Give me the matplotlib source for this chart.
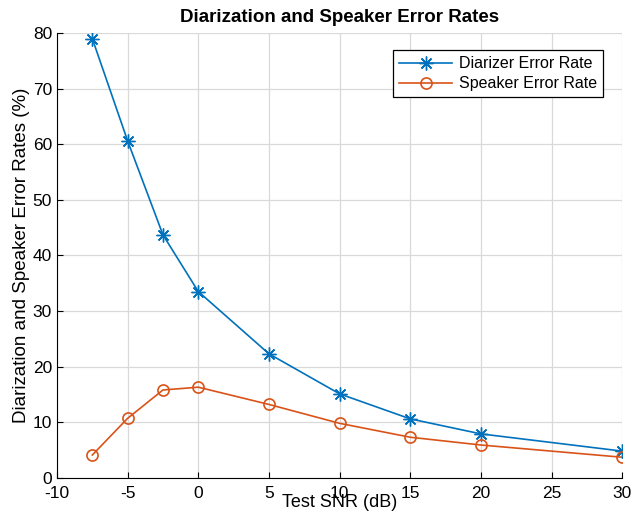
import numpy as np
import matplotlib.pyplot as plt

plt.rcParams['font.family'] = ['Liberation Sans', 'DejaVu Sans']
plt.rcParams['axes.unicode_minus'] = False

snr = [-7.5, -5, -2.5, 0, 5, 10, 15, 20, 30]
diarizer_err = [79.0, 60.6, 43.7, 33.5, 22.3, 15.1, 10.6, 7.9, 4.8]
speaker_err = [4.1, 10.7, 15.8, 16.3, 13.2, 9.8, 7.3, 5.9, 3.7]

fig = plt.figure(figsize=(6.33, 5.16), dpi=100)
ax = fig.add_axes([0.090, 0.074, 0.893, 0.862])

ax.plot(snr, diarizer_err, color='#0072BD', marker=(8, 2, 0), markersize=10,
        markeredgewidth=1.0, linewidth=1.2, label='Diarizer Error Rate')
ax.plot(snr, speaker_err, color='#D95319', marker='o', markersize=8,
        markerfacecolor='none', markeredgewidth=1.2, linewidth=1.2,
        label='Speaker Error Rate')

ax.set_xlim(-10, 30)
ax.set_ylim(0, 80)
ax.set_xticks(np.arange(-10, 31, 5))
ax.set_yticks(np.arange(0, 81, 10))
ax.grid(True, color='#d9d9d9', linewidth=0.9)
ax.set_axisbelow(True)
for s in ['top', 'right']:
    ax.spines[s].set_visible(False)
ax.tick_params(direction='in', length=4, labelsize=12.5)
ax.tick_params(axis='x', pad=6)

ax.set_xlabel('Test SNR (dB)', fontsize=13, labelpad=-5)
ax.set_ylabel('Diarization and Speaker Error Rates (%)', fontsize=13.5, labelpad=2)
ax.set_title('Diarization and Speaker Error Rates', fontsize=13.5,
             fontweight='bold', pad=8)

leg = ax.legend(loc='upper right', bbox_to_anchor=(0.966, 0.962), borderaxespad=0,
                fontsize=11.5, fancybox=False, edgecolor='black', framealpha=1,
                handlelength=3.3, handletextpad=0.4, borderpad=0.4,
                labelspacing=0.3)
leg.get_frame().set_linewidth(0.9)

fig.savefig('out.png', dpi=100)
